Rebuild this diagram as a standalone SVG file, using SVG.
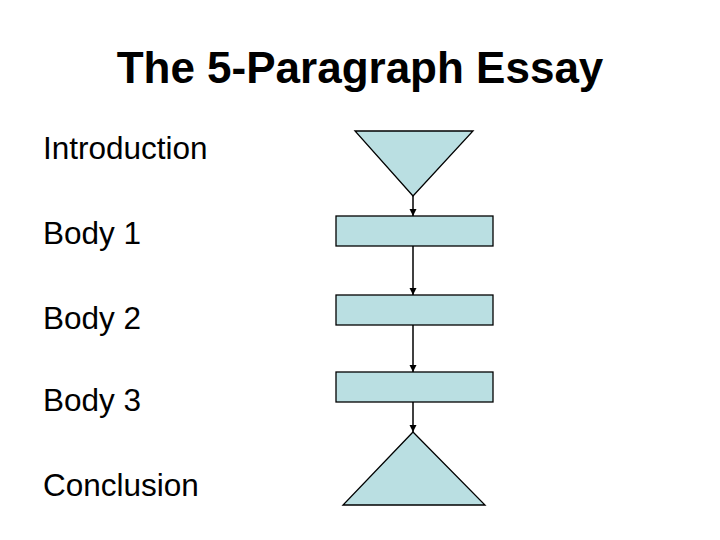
<svg xmlns="http://www.w3.org/2000/svg" width="720" height="540" viewBox="0 0 720 540">
<style>
text{font-family:"Liberation Sans",Arial,sans-serif;fill:#000}
.lbl{font-size:31.5px}
.shape{fill:#BADFE2;stroke:#000;stroke-width:1.3}
.conn{stroke:#000;stroke-width:1.5;fill:none;marker-end:url(#ah)}
</style>
<defs><marker id="ah" viewBox="0 0 10 10" refX="10" refY="5" markerWidth="5" markerHeight="5" orient="auto"><path d="M0,0L10,5L0,10z" fill="#000"/></marker></defs>
<rect width="720" height="540" fill="#fff"/>
<text x="360" y="83" font-size="44" font-weight="bold" text-anchor="middle">The 5-Paragraph Essay</text>
<g id="labels">
<text class="lbl" x="43" y="159">Introduction</text>
<text class="lbl" x="43" y="244">Body 1</text>
<text class="lbl" x="43" y="329">Body 2</text>
<text class="lbl" x="43" y="411">Body 3</text>
<text class="lbl" x="43" y="496">Conclusion</text>
</g>
<g id="intro"><polygon class="shape" points="355,131 473,131 413,196"/></g>
<g id="body1"><rect class="shape" x="336" y="216" width="157" height="30"/></g>
<g id="body2"><rect class="shape" x="336" y="295" width="157" height="30"/></g>
<g id="body3"><rect class="shape" x="336" y="372" width="157" height="30"/></g>
<g id="conclusion"><polygon class="shape" points="413,432 485,505 343,505"/></g>
<g id="connectors">
<line class="conn" x1="413" y1="196" x2="413" y2="216"/>
<line class="conn" x1="413" y1="246" x2="413" y2="295"/>
<line class="conn" x1="413" y1="325" x2="413" y2="372"/>
<line class="conn" x1="413" y1="402" x2="413" y2="432"/>
</g>
</svg>
